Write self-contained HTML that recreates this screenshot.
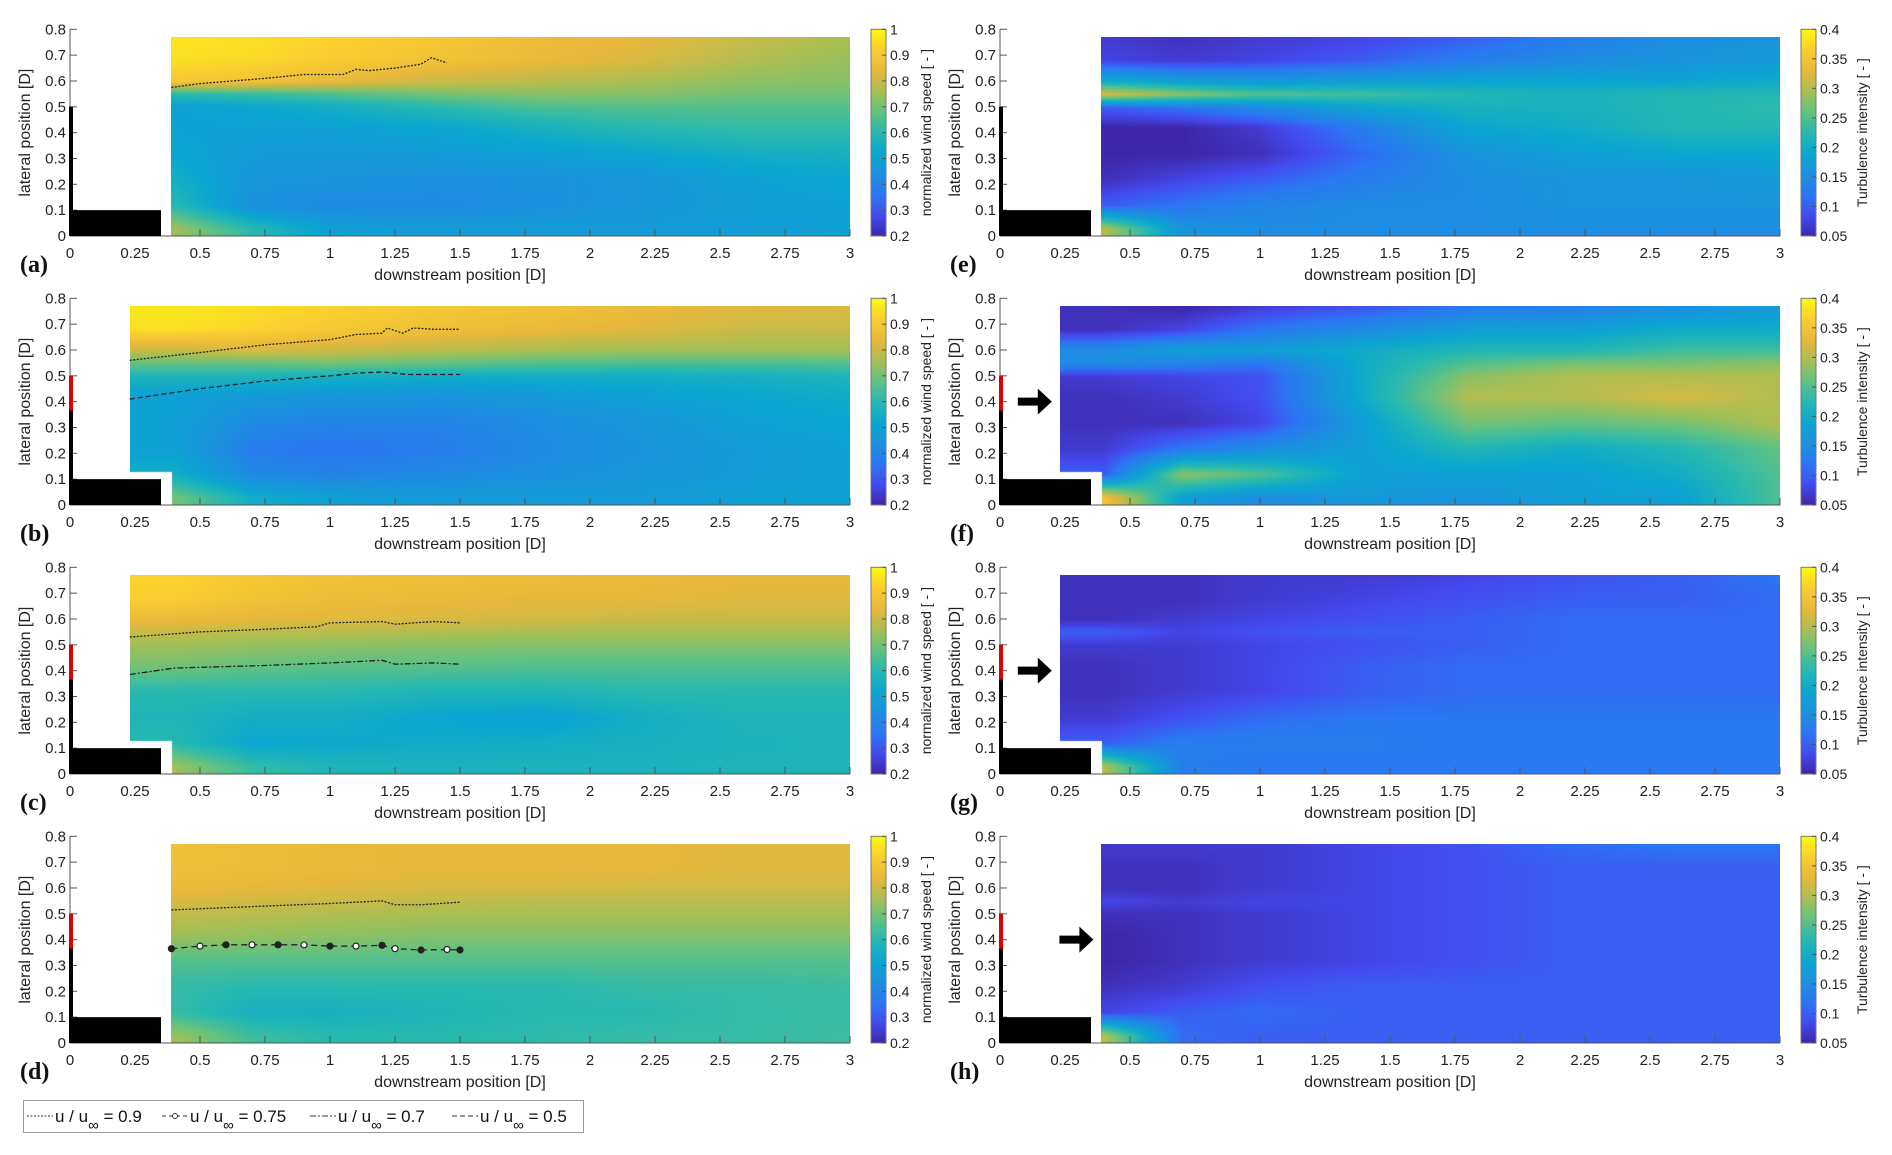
<!DOCTYPE html>
<html><head><meta charset="utf-8">
<style>
body{margin:0;background:#fff;width:1892px;height:1155px;position:relative;overflow:hidden;font-family:"Liberation Sans",sans-serif}
canvas{position:absolute}
svg{position:absolute;left:0;top:0}
</style></head>
<body>
<div id="cv"></div>
<svg id="s" width="1892" height="1155"></svg>
<script>
// grid of sampled positions
const gridX=[0.4,0.7,1.0,1.4,1.8,2.2,2.6,3.0];
const gridY=[0.77,0.68,0.60,0.55,0.50,0.42,0.32,0.22,0.12,0.03];
// wind speed panels
const windA=[[.96,.95,.93,.9,.86,.84,.8,.76],[.95,.94,.91,.88,.85,.82,.77,.74],[.9,.88,.85,.8,.78,.76,.73,.72],[.6,.62,.65,.7,.72,.72,.7,.7],[.5,.52,.55,.6,.65,.66,.66,.66],[.5,.5,.5,.52,.56,.6,.62,.62],[.52,.48,.47,.48,.5,.52,.55,.56],[.55,.46,.45,.44,.44,.46,.5,.52],[.6,.44,.42,.42,.44,.46,.49,.5],[.75,.6,.5,.48,.48,.48,.49,.5]];
const windB=[[.97,.95,.93,.9,.88,.85,.83,.82],[.95,.93,.9,.87,.85,.83,.8,.8],[.8,.82,.8,.78,.76,.75,.75,.75],[.68,.68,.7,.68,.66,.65,.65,.66],[.58,.58,.56,.55,.55,.55,.56,.58],[.5,.47,.46,.45,.47,.5,.52,.54],[.5,.42,.4,.4,.43,.46,.5,.52],[.5,.38,.36,.38,.42,.45,.48,.5],[.55,.42,.4,.42,.44,.46,.48,.5],[.7,.55,.5,.48,.48,.48,.5,.5]];
const windC=[[.93,.9,.88,.87,.86,.85,.84,.84],[.92,.88,.86,.85,.84,.84,.83,.83],[.85,.84,.83,.82,.81,.8,.8,.8],[.8,.78,.78,.77,.76,.76,.76,.76],[.75,.74,.73,.72,.72,.72,.72,.72],[.7,.68,.67,.67,.66,.66,.66,.66],[.6,.6,.6,.58,.58,.6,.6,.6],[.58,.55,.55,.52,.5,.55,.58,.58],[.6,.52,.53,.54,.55,.56,.57,.58],[.75,.62,.58,.57,.57,.57,.58,.58]];
const windD=[[.87,.86,.85,.84,.84,.84,.83,.83],[.87,.86,.85,.84,.84,.84,.83,.83],[.85,.84,.83,.82,.82,.81,.81,.81],[.82,.81,.8,.79,.78,.78,.78,.78],[.79,.78,.77,.76,.76,.76,.76,.76],[.75,.74,.73,.72,.72,.72,.72,.72],[.66,.66,.66,.66,.66,.66,.66,.66],[.62,.6,.6,.6,.6,.62,.62,.63],[.62,.56,.56,.58,.6,.6,.62,.62],[.75,.63,.6,.6,.61,.62,.62,.63]];
// turbulence intensity panels
const tiE=[[.07,.06,.07,.08,.1,.13,.15,.16],[.08,.07,.08,.1,.13,.15,.16,.17],[.2,.18,.17,.18,.19,.19,.19,.2],[.32,.28,.25,.24,.22,.21,.22,.22],[.1,.12,.15,.19,.21,.21,.22,.23],[.05,.05,.07,.13,.19,.2,.22,.22],[.05,.05,.06,.11,.16,.18,.19,.19],[.06,.08,.1,.13,.15,.16,.16,.17],[.1,.12,.14,.15,.15,.16,.16,.16],[.3,.16,.15,.15,.15,.15,.15,.15]];
const tiF=[[.06,.05,.07,.09,.12,.13,.15,.17],[.06,.08,.12,.15,.18,.18,.2,.2],[.15,.18,.18,.2,.22,.22,.24,.24],[.15,.14,.12,.2,.25,.27,.27,.28],[.07,.08,.09,.2,.28,.3,.3,.3],[.06,.07,.09,.2,.3,.3,.32,.3],[.06,.06,.08,.18,.27,.26,.27,.3],[.07,.12,.15,.18,.22,.2,.22,.26],[.1,.28,.25,.18,.18,.18,.2,.25],[.35,.18,.15,.17,.16,.18,.18,.25]];
const tiG=[[.06,.06,.07,.07,.08,.09,.1,.12],[.06,.06,.07,.08,.09,.1,.1,.11],[.06,.07,.08,.09,.1,.11,.11,.11],[.1,.08,.09,.1,.1,.11,.11,.11],[.07,.07,.08,.09,.1,.11,.11,.11],[.06,.07,.08,.1,.11,.11,.11,.11],[.06,.07,.08,.1,.11,.11,.11,.11],[.07,.09,.11,.12,.12,.12,.12,.12],[.1,.13,.13,.13,.12,.12,.12,.12],[.3,.13,.12,.12,.12,.12,.12,.12]];
const tiH=[[.07,.07,.07,.08,.09,.11,.12,.12],[.06,.06,.07,.08,.09,.1,.1,.1],[.06,.06,.07,.08,.09,.1,.1,.1],[.08,.07,.08,.08,.09,.1,.1,.1],[.06,.06,.07,.08,.09,.1,.1,.1],[.05,.06,.07,.08,.09,.1,.1,.1],[.05,.06,.07,.08,.09,.1,.1,.1],[.06,.07,.09,.1,.1,.1,.1,.1],[.08,.1,.11,.1,.1,.1,.1,.1],[.3,.11,.1,.1,.1,.1,.1,.1]];
// contour lines
const cA9x=[0.39,.5,.75,.9,1.05,1.1,1.15,1.25,1.35,1.39,1.45], cA9y=[.575,.59,.61,.625,.625,.645,.64,.65,.665,.69,.67];
const cB9x=[0.23,.5,.75,1.0,1.1,1.2,1.22,1.28,1.32,1.4,1.5], cB9y=[.56,.59,.62,.64,.66,.665,.685,.665,.685,.68,.68];
const cB7x=[0.23,.5,.75,1.0,1.1,1.2,1.3,1.5], cB7y=[.41,.45,.48,.5,.51,.515,.505,.505];
const cC9x=[0.23,.5,.75,.95,1.0,1.2,1.25,1.4,1.5], cC9y=[.53,.55,.56,.57,.585,.59,.58,.59,.585];
const cC7x=[0.23,.4,.75,1.0,1.2,1.25,1.4,1.5], cC7y=[.385,.41,.42,.43,.44,.425,.43,.425];
const cD9x=[0.39,.75,1.0,1.2,1.25,1.35,1.5], cD9y=[.515,.53,.54,.55,.535,.535,.545];
const cD75x=[0.39,.5,.6,.7,.8,.9,1.0,1.1,1.2,1.25,1.35,1.45,1.5], cD75y=[.365,.375,.38,.38,.38,.38,.375,.375,.378,.365,.36,.362,.36];

const NS='http://www.w3.org/2000/svg', S=document.getElementById('s');
function el(t,a,p){const e=document.createElementNS(NS,t);for(const k in a)e.setAttribute(k,a[k]);(p||S).appendChild(e);return e;}
const P=[[0,[62,38,168]],[.1,[68,75,238]],[.2,[42,120,242]],[.3,[28,145,224]],[.4,[12,166,208]],[.5,[38,184,176]],[.6,[98,194,130]],[.7,[168,190,82]],[.8,[232,184,60]],[.9,[250,205,48]],[1,[249,251,14]]];
function cmap(t){t=Math.max(0,Math.min(1,t));for(let i=1;i<P.length;i++)if(t<=P[i][0]){const a=P[i-1],b=P[i],f=(t-a[0])/(b[0]-a[0]);return a[1].map((v,j)=>Math.round(v+(b[1][j]-v)*f));}return P[P.length-1][1];}
function idx(arr,v,desc){let n=arr.length;if(!desc){if(v<=arr[0])return[0,0,0];if(v>=arr[n-1])return[n-1,n-1,0];for(let i=0;i<n-1;i++)if(v<=arr[i+1])return[i,i+1,(v-arr[i])/(arr[i+1]-arr[i])];}else{if(v>=arr[0])return[0,0,0];if(v<=arr[n-1])return[n-1,n-1,0];for(let i=0;i<n-1;i++)if(v>=arr[i+1])return[i,i+1,(arr[i]-v)/(arr[i]-arr[i+1])];}}
function val(g,x,y){const a=idx(gridX,x,false),b=idx(gridY,y,true);const v00=g[b[0]][a[0]],v01=g[b[0]][a[1]],v10=g[b[1]][a[0]],v11=g[b[1]][a[1]];const t=v00+(v01-v00)*a[2],u=v10+(v11-v10)*a[2];return t+(u-t)*b[2];}

function panel(o){
  const x0=o.left, x3=o.left+780, y0=o.base, H=206.7;
  const sx=v=>x0+v*(x3-x0)/3, sy=v=>y0-v*H/0.8;
  const L=Math.round(sx(o.xs)),T=Math.round(sy(0.77)),R=Math.round(sx(3)),B=Math.round(y0);
  const c=document.createElement('canvas');c.width=R-L;c.height=B-T;c.style.left=L+'px';c.style.top=T+'px';
  
  
  document.getElementById('cv').appendChild(c);
  const ctx=c.getContext('2d'),im=ctx.createImageData(c.width,c.height);
  for(let j=0;j<c.height;j++)for(let i=0;i<c.width;i++){
    const dx=(L+i-x0)*3/(x3-x0),dy=(y0-(T+j))*0.8/H;let k=(j*c.width+i)*4;
    if(o.xs<0.3&&dx<0.39&&dy<0.13){im.data[k+3]=0;continue;}
    const v=val(o.g,dx,dy),col=cmap((v-o.lo)/(o.hi-o.lo));
    im.data[k]=col[0];im.data[k+1]=col[1];im.data[k+2]=col[2];im.data[k+3]=255;}
  ctx.putImageData(im,0,0);
  const g=el('g',{});
  
  
  el('line',{x1:x0,y1:sy(0.8),x2:x0,y2:y0,stroke:'#555','stroke-width':1},g);
  el('line',{x1:x0,y1:y0,x2:x3,y2:y0,stroke:'#555','stroke-width':1},g);
  for(let k=0;k<=8;k++){const v=k/10,y=sy(v);el('line',{x1:x0,y1:y,x2:x0+7,y2:y,stroke:'#555'},g);
    const t=el('text',{x:x0-4,y:y+5,'text-anchor':'end','font-size':15,fill:'#222'},g);t.textContent=k==0?'0':v.toFixed(1);}
  for(let k=0;k<=12;k++){const v=k*0.25,x=sx(v);el('line',{x1:x,y1:y0,x2:x,y2:y0-7,stroke:'#555'},g);
    const t=el('text',{x:x,y:y0+22,'text-anchor':'middle','font-size':15,fill:'#222'},g);t.textContent=String(v);}
  let t=el('text',{x:(x0+x3)/2,y:y0+44,'text-anchor':'middle','font-size':16,fill:'#222'},g);t.textContent='downstream position [D]';
  t=el('text',{transform:`translate(${x0-40},${sy(0.4)}) rotate(-90)`,'text-anchor':'middle','font-size':16,fill:'#222'},g);t.textContent='lateral position [D]';
  t=el('text',{x:x0-50,y:y0+36,'font-size':24,'font-weight':'bold','font-family':'Liberation Serif,serif',fill:'#111'},g);t.textContent='('+o.lab+')';
  el('rect',{x:x0,y:sy(0.1),width:sx(0.35)-x0,height:y0-sy(0.1),fill:'#000'},g);
  el('line',{x1:x0+1,y1:y0,x2:x0+1,y2:sy(0.5),stroke:'#000','stroke-width':4},g);
  if(o.red) el('line',{x1:x0+1,y1:sy(0.365),x2:x0+1,y2:sy(0.5),stroke:'#d00','stroke-width':4},g);
  if(o.arrow){const ax=sx(o.xs)-8,ay=sy(0.4);el('path',{d:`M${ax-34},${ay-4}h20v-9l14,13l-14,13v-9h-20z`,fill:'#000'},g);}
  (o.lines||[]).forEach(l=>{const pts=l.x.map((v,i)=>sx(v)+','+sy(l.y[i])).join(' ');
    const pl=el('polyline',{points:pts,fill:'none',stroke:'#222','stroke-width':l.w||1.3,'stroke-dasharray':l.d||'2 1.5'},g);
    
    
    if(l.m)l.x.forEach((v,i)=>{el('circle',{cx:sx(v),cy:sy(l.y[i]),r:3,fill:i%2?'#fff':'#222',stroke:'#222','stroke-width':1.2},g);});});
  const cx=o.left+801,gid='gr'+o.lab;
  const lg=el('linearGradient',{id:gid,x1:0,y1:1,x2:0,y2:0},el('defs',{},g));
  for(let k=0;k<=20;k++){const col=cmap(k/20);el('stop',{offset:k/20,'stop-color':`rgb(${col})`},lg);}
  const cb=el('rect',{x:cx,y:sy(0.8),width:15,height:H,fill:`url(#${gid})`,stroke:'#777','stroke-width':1},g);
  
  
  o.ticks.forEach((v,i)=>{const y=sy(0.8)+H*(1-(v-o.lo)/(o.hi-o.lo));el('line',{x1:cx+15,y1:y,x2:cx+11,y2:y,stroke:'#555'},g);
    const tt=el('text',{x:cx+19,y:y+5,'font-size':14,fill:'#222'},g);tt.textContent=o.tl[i];});
  t=el('text',{transform:`translate(${cx+(o.wind?60:66)},${sy(0.4)}) rotate(-90)`,'text-anchor':'middle','font-size':14,fill:'#222'},g);t.textContent=o.wind?'normalized wind speed [ - ]':'Turbulence intensity [ - ]';
}
const windTicks=[.2,.3,.4,.5,.6,.7,.8,.9,1], windTL=['0.2','0.3','0.4','0.5','0.6','0.7','0.8','0.9','1'];
const tiTicks=[.05,.1,.15,.2,.25,.3,.35,.4], tiTL=['0.05','0.1','0.15','0.2','0.25','0.3','0.35','0.4'];
const bases=[236,505,774,1043];
const W={lo:.2,hi:1,ticks:windTicks,tl:windTL,wind:true,left:70}, Tt={lo:.05,hi:.4,ticks:tiTicks,tl:tiTL,wind:false,left:1000};
panel(Object.assign({},W,{name:'a',lab:'a',base:bases[0],g:windA,xs:0.39,lines:[{x:cA9x,y:cA9y,n:'contour-09-a'}]}));
panel(Object.assign({},W,{name:'b',lab:'b',base:bases[1],g:windB,xs:0.23,red:1,lines:[{x:cB9x,y:cB9y,n:'contour-09-b'},{x:cB7x,y:cB7y,d:'5 3',n:'contour-05-b'}]}));
panel(Object.assign({},W,{name:'c',lab:'c',base:bases[2],g:windC,xs:0.23,red:1,lines:[{x:cC9x,y:cC9y,n:'contour-09-c'},{x:cC7x,y:cC7y,d:'6 2 2 2',n:'contour-07-c'}]}));
panel(Object.assign({},W,{name:'d',lab:'d',base:bases[3],g:windD,xs:0.39,red:1,lines:[{x:cD9x,y:cD9y,n:'contour-09-d'},{x:cD75x,y:cD75y,d:'6 4',m:1,n:'contour-075-d'}]}));
panel(Object.assign({},Tt,{name:'e',lab:'e',base:bases[0],g:tiE,xs:0.39}));
panel(Object.assign({},Tt,{name:'f',lab:'f',base:bases[1],g:tiF,xs:0.23,red:1,arrow:1}));
panel(Object.assign({},Tt,{name:'g',lab:'g',base:bases[2],g:tiG,xs:0.23,red:1,arrow:1}));
panel(Object.assign({},Tt,{name:'h',lab:'h',base:bases[3],g:tiH,xs:0.39,red:1,arrow:1}));
const lg=el('g',{});


el('rect',{x:23.5,y:1100.5,width:560,height:32,fill:'#fff',stroke:'#999'},lg);
const items=[{x:27,t:'0.9',d:'2 1.5'},{x:162,t:'0.75',d:'4 3',m:1},{x:310,t:'0.7',d:'6 2 2 2'},{x:452,t:'0.5',d:'5 3'}];
items.forEach((it,i)=>{el('line',{x1:it.x,y1:1116,x2:it.x+26,y2:1116,stroke:'#333','stroke-dasharray':it.d},lg);
  if(it.m)el('circle',{cx:it.x+13,cy:1116,r:2.5,fill:'#fff',stroke:'#333'},lg);
  const t=el('text',{x:it.x+28,y:1122,'font-size':17,fill:'#111'},lg);
  
  
  t.innerHTML=`u / u<tspan dy="8" font-size="15">∞</tspan><tspan dy="-8"> = ${it.t}</tspan>`;});
</script>
</body></html>
